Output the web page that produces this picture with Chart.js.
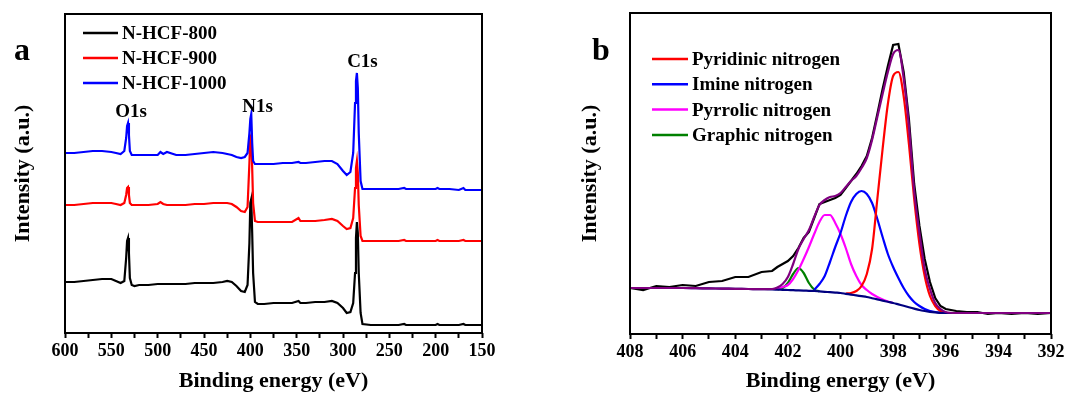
<!DOCTYPE html>
<html>
<head>
<meta charset="utf-8">
<title>XPS spectra</title>
<script src="https://cdn.jsdelivr.net/npm/chart.js@4.4.0/dist/chart.umd.min.js"></script>
<style>
  html, body { margin: 0; padding: 0; background: #fff; }
  #wrap { position: relative; width: 1091px; height: 398px; }
  #surveyChart { position: absolute; left: 0; top: 0; }
  #n1sChart { position: absolute; left: 545px; top: 0; }
</style>
</head>
<body>
<div id="wrap">
  <canvas id="surveyChart" width="545" height="398"></canvas>
  <canvas id="n1sChart" width="546" height="398"></canvas>
</div>
<script>
// ---- panel a: survey spectra (intensity in arbitrary units) ----
const surveyEnergy = [600, 590, 580, 570, 560, 550, 545, 540, 536, 534, 533, 532, 531, 530, 528, 525, 520, 510, 500, 497,
  494, 490, 480, 470, 460, 450, 440, 430, 425, 420, 415, 410, 406, 403, 401, 400, 399, 398, 397, 395,
  392, 385, 375, 365, 355, 348, 346, 340, 330, 320, 312, 306, 300, 296, 292, 289, 287, 286, 285, 284,
  283, 281, 279, 270, 260, 250, 240, 234, 232, 220, 210, 200, 198, 196, 185, 175, 170, 168, 160, 150];
const hcf800 = [51, 51, 52, 53, 54, 54, 52, 50, 52, 75, 92, 95, 80, 55, 48, 47, 48, 48, 49, 49,
  49, 49, 49, 49, 50, 50, 50, 51, 52, 51, 47, 42, 41, 48, 90, 130, 134, 100, 60, 31,
  29, 29, 30, 30, 30, 32, 30, 30, 31, 31, 32, 30, 25, 20, 21, 30, 60, 95, 111, 100,
  60, 20, 9, 8, 8, 8, 8, 9, 8, 8, 8, 8, 9, 8, 8, 8, 9, 8, 8, 8];
const hcf900 = [128, 128, 129, 130, 130, 130, 129, 128, 130, 138, 145, 146, 138, 130, 128, 128, 128, 128, 129, 131,
  129, 128, 128, 128, 129, 129, 130, 130, 130, 129, 126, 122, 121, 126, 170, 196, 198, 165, 130, 112,
  111, 111, 111, 111, 111, 115, 112, 112, 112, 113, 114, 112, 107, 104, 105, 115, 145, 165, 172, 160,
  128, 97, 92, 92, 92, 92, 92, 93, 92, 92, 92, 92, 93, 92, 92, 92, 93, 92, 92, 92];
const hcf1000 = [180, 180, 181, 182, 182, 181, 180, 179, 182, 195, 207, 210, 198, 182, 178, 178, 178, 178, 178, 181,
  179, 181, 178, 178, 179, 180, 181, 180, 179, 178, 176, 175, 176, 180, 200, 214, 219, 190, 172, 169,
  169, 169, 169, 170, 170, 171, 170, 170, 171, 172, 172, 169, 162, 158, 161, 180, 230, 252, 260, 245,
  200, 152, 144, 144, 144, 144, 144, 145, 144, 144, 144, 144, 145, 144, 144, 143, 145, 143, 143, 143];
const surveyTickLabels = [600, 550, 500, 450, 400, 350, 300, 250, 200, 150];
const surveyPeaks = ['O1s', 'N1s', 'C1s'];

// ---- panel b: N1s high-resolution spectrum and its fit ----
const n1sEnergy = [408, 407.5, 407, 406.5, 406, 405.5, 405, 404.5, 404, 403.5, 403, 402.6,
  402.4, 402.2, 402.0, 401.8, 401.6, 401.4, 401.2, 401.0, 400.8, 400.6, 400.4, 400.2, 400.0,
  399.8, 399.6, 399.4, 399.2, 399.0, 398.8, 398.6, 398.4, 398.2, 398.0, 397.8, 397.6, 397.4,
  397.2, 397.0, 396.8, 396.6, 396.4, 396.2, 396.0,
  395.6, 395.2, 394.8, 394.4, 394, 393.5, 393, 392.5, 392];
const n1sRaw = [46, 44, 48, 47, 49, 48, 52, 53, 57, 57, 62, 63,
  67, 70, 73, 78, 86, 96, 102, 116, 130, 132, 134, 136, 139,
  146, 153, 160, 168, 178, 196, 220, 245, 268, 289, 290, 262, 215,
  150, 108, 75, 52, 36, 28, 25,
  23, 22, 22, 20, 21, 20, 21, 20, 21];
const n1sEnvelope = [46, 46, 46, 46, 46, 45.8, 45.6, 45.4, 45.2, 45, 44.8, 45,
  46.5, 50, 57, 70, 85, 95, 104, 117, 129, 134, 137, 138, 141,
  147, 153, 158, 166, 176, 194, 217, 240, 262, 280, 284, 256, 208,
  143, 101, 65, 45, 31, 25, 22,
  21, 21, 21, 21, 21, 21, 21, 21, 21];
const n1sBaseline = [46, 46, 46, 46, 46, 45.8, 45.6, 45.4, 45.2, 45, 44.8, 44.6,
  44.4, 44.2, 44, 43.8, 43.6, 43.4, 43.2, 43, 42.6, 42.2, 41.8, 41.4, 41,
  40.2, 39.4, 38.6, 37.8, 37, 35.8, 34.6, 33.4, 32.2, 31, 29.6, 28.2, 26.8,
  25.4, 24, 23, 22.2, 21.6, 21.2, 21,
  21, 21, 21, 21, 21, 21, 21, 21, 21];
const pyridinicN = [null, null, null, null, null, null, null, null, null, null, null, null,
  null, null, null, null, null, null, null, null, null, null, null, null, null,
  40.5, 41, 43, 48, 60, 85, 135, 185, 230, 258, 262, 238, 190,
  135, 90, 58, 38, 28, 23, 21,
  null, null, null, null, null, null, null, null, null];
const imineN = [null, null, null, null, null, null, null, null, null, null, null, null,
  null, null, null, null, null, null, null, 44, 50, 58, 72, 87, 101,
  118, 132, 140, 143, 140, 131, 115, 97, 80, 67, 56, 46, 38,
  32, 28, 25, 23, 22, 21.2, null,
  null, null, null, null, null, null, null, null, null];
const pyrrolicN = [null, null, null, null, null, null, null, null, null, null, null, null,
  45, 47, 49, 55, 64, 75, 87, 100, 112, 119, 119, 111, 100,
  86, 70, 58, 49, 44, 40, 37, 34.5, 32.5, 31, null, null, null,
  null, null, null, null, null, null, null,
  null, null, null, null, null, null, null, null, null];
const graphicN = [null, null, null, null, null, null, null, null, null, null, null, null,
  44.5, 46, 51, 60, 66, 61, 51, 44.5, 42.8, null, null, null, null,
  null, null, null, null, null, null, null, null, null, null, null, null, null,
  null, null, null, null, null, null, null,
  null, null, null, null, null, null, null, null, null];
const n1sTickLabels = [408, 406, 404, 402, 400, 398, 396, 394, 392];

const FONT = '"Liberation Serif", "Times New Roman", Times, serif';

function points(xs, ys) {
    return xs.map((x, i) => ({ x: x, y: ys[i] }));
}

// box around the plot area
const framePlugin = {
    id: 'frame',
    afterDatasetsDraw(chart) {
        const { ctx, chartArea: a } = chart;
        ctx.save();
        ctx.strokeStyle = '#000';
        ctx.lineWidth = 2;
        ctx.strokeRect(a.left, a.top, a.right - a.left, a.bottom - a.top);
        ctx.restore();
    }
};

// legend drawn inside the plot, top left
const insideLegend = {
    id: 'insideLegend',
    afterDraw(chart, args, opts) {
        const ctx = chart.ctx;
        ctx.save();
        ctx.font = 'bold 19px ' + FONT;
        ctx.textBaseline = 'middle';
        ctx.textAlign = 'left';
        opts.items.forEach((idx, i) => {
            const ds = chart.data.datasets[idx];
            const y = opts.y + i * opts.step;
            ctx.strokeStyle = ds.borderColor;
            ctx.lineWidth = 2.5;
            ctx.beginPath();
            ctx.moveTo(opts.x, y);
            ctx.lineTo(opts.x + opts.len, y);
            ctx.stroke();
            ctx.fillStyle = '#000';
            ctx.fillText(ds.label, opts.x + opts.len + 4, y + 1);
        });
        ctx.restore();
    }
};

// panel letter and peak names
const textMarks = {
    id: 'textMarks',
    afterDraw(chart, args, opts) {
        const ctx = chart.ctx;
        const xs = chart.scales.x, ys = chart.scales.y;
        ctx.save();
        ctx.fillStyle = '#000';
        ctx.textAlign = 'center';
        ctx.textBaseline = 'alphabetic';
        ctx.font = 'bold 19px ' + FONT;
        (opts.peakAt || []).forEach((p, i) => {
            ctx.fillText(surveyPeaks[i], xs.getPixelForValue(p[0]), ys.getPixelForValue(p[1]));
        });
        ctx.font = 'bold 32px ' + FONT;
        ctx.fillText(opts.letter, opts.letterX, opts.letterY);
        ctx.restore();
    }
};

function axes(min, max, step, tickLabels, yMax, xHeight, yWidth, yTitlePad) {
    return {
        x: {
            type: 'linear',
            min: min,
            max: max,
            reverse: true,
            afterFit: s => { s.height = xHeight; },
            border: { display: false },
            grid: { drawOnChartArea: false, drawTicks: true, tickLength: 5, tickWidth: 2, tickColor: '#000' },
            ticks: {
                stepSize: step,
                autoSkip: false,
                maxRotation: 0,
                padding: 3,
                color: '#000',
                font: { family: FONT, size: 18, weight: 'bold' },
                callback: v => tickLabels.includes(v) ? String(v) : ''
            },
            title: {
                display: true,
                text: 'Binding energy (eV)',
                color: '#000',
                font: { family: FONT, size: 22, weight: 'bold' },
                padding: { top: 0, bottom: 3 }
            }
        },
        y: {
            min: 0,
            max: yMax,
            afterFit: s => { s.width = yWidth; },
            border: { display: false },
            grid: { display: false },
            ticks: { display: false },
            title: {
                display: true,
                text: 'Intensity (a.u.)',
                color: '#000',
                font: { family: FONT, size: 22, weight: 'bold' },
                padding: { top: yTitlePad, bottom: 0 }
            }
        }
    };
}

const commonLine = { borderWidth: 2.2, pointRadius: 0, fill: false };

// a. survey
new Chart(document.getElementById('surveyChart'), {
    type: 'line',
    data: {
        datasets: [
            { ...commonLine, label: 'N-HCF-800', data: points(surveyEnergy, hcf800), borderColor: '#000000', order: 2, tension: 0 },
            { ...commonLine, label: 'N-HCF-900', data: points(surveyEnergy, hcf900), borderColor: '#ff0000', order: 1, tension: 0 },
            { ...commonLine, label: 'N-HCF-1000', data: points(surveyEnergy, hcf1000), borderColor: '#0000ff', order: 0, tension: 0 }
        ]
    },
    options: {
        responsive: false,
        animation: false,
        events: [],
        layout: { padding: { top: 14, right: 63, bottom: 0, left: 0 } },
        scales: axes(150, 600, 25, surveyTickLabels, 319, 65, 65, 10),
        plugins: {
            legend: { display: false },
            tooltip: { enabled: false },
            insideLegend: { items: [0, 1, 2], x: 83, y: 33, step: 25, len: 35 },
            textMarks: { letter: 'a', letterX: 22, letterY: 60, peakAt: [[528.8, 216], [392.3, 221], [279, 266]] }
        }
    },
    plugins: [framePlugin, insideLegend, textMarks]
});

// b. N1s fit
new Chart(document.getElementById('n1sChart'), {
    type: 'line',
    data: {
        datasets: [
            { ...commonLine, label: 'Pyridinic nitrogen', data: points(n1sEnergy, pyridinicN), borderColor: '#ff0000', order: 2, cubicInterpolationMode: 'monotone' },
            { ...commonLine, label: 'Imine nitrogen', data: points(n1sEnergy, imineN), borderColor: '#0000ff', order: 3, cubicInterpolationMode: 'monotone' },
            { ...commonLine, label: 'Pyrrolic nitrogen', data: points(n1sEnergy, pyrrolicN), borderColor: '#ff00ff', order: 4, cubicInterpolationMode: 'monotone' },
            { ...commonLine, label: 'Graphic nitrogen', data: points(n1sEnergy, graphicN), borderColor: '#008000', order: 5, cubicInterpolationMode: 'monotone' },
            { ...commonLine, label: 'Raw', data: points(n1sEnergy, n1sRaw), borderColor: '#000000', order: 6, tension: 0 },
            { ...commonLine, label: 'Background', data: points(n1sEnergy, n1sBaseline), borderColor: '#000080', order: 1, cubicInterpolationMode: 'monotone' },
            { ...commonLine, label: 'Envelope', data: points(n1sEnergy, n1sEnvelope), borderColor: '#800080', order: 0, cubicInterpolationMode: 'monotone' }
        ]
    },
    options: {
        responsive: false,
        animation: false,
        events: [],
        layout: { padding: { top: 13, right: 40, bottom: 0, left: 0 } },
        scales: axes(392, 408, 1, n1sTickLabels, 321, 64, 85, 32),
        plugins: {
            legend: { display: false },
            tooltip: { enabled: false },
            insideLegend: { items: [0, 1, 2, 3], x: 107, y: 59, step: 25.3, len: 36 },
            textMarks: { letter: 'b', letterX: 56, letterY: 60 }
        }
    },
    plugins: [framePlugin, insideLegend, textMarks]
});
</script>
</body>
</html>
